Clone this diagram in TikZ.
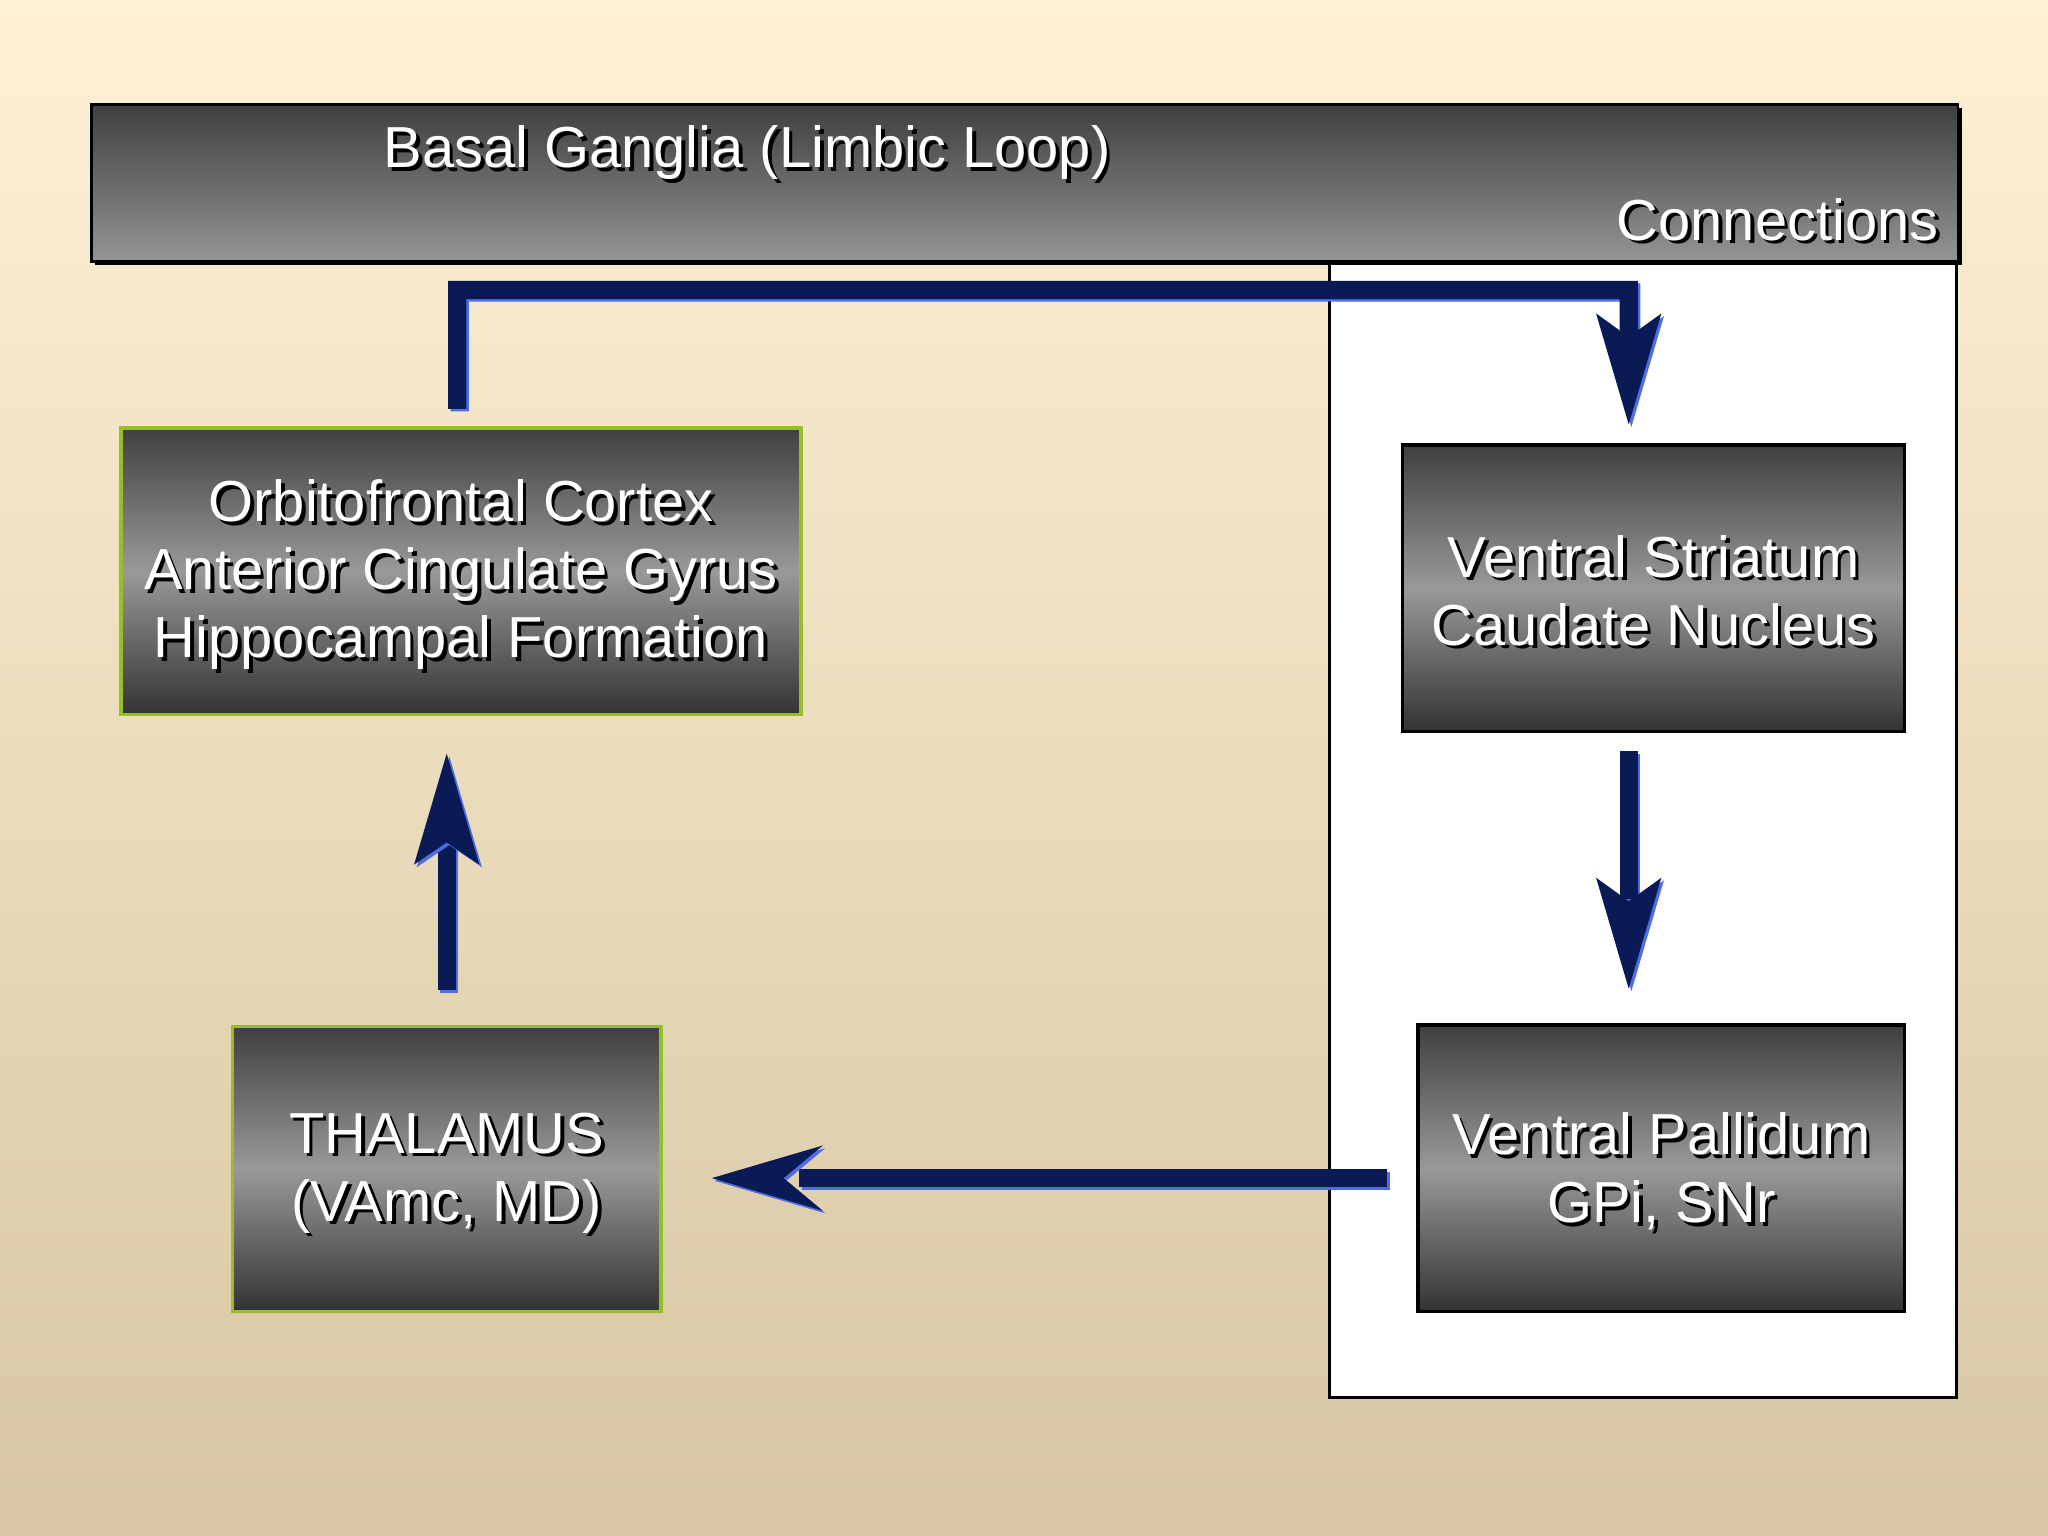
\documentclass[tikz,border=0pt]{standalone}
\usepackage{fontspec}
\setmainfont{Liberation Sans}
\begin{document}
\begin{tikzpicture}[x=0.01cm,y=-0.01cm,
  txt/.style={align=center,font=\fontsize{12.6}{14.8}\selectfont,inner sep=0pt},
  box/.style={draw=#1,line width=0.8pt,shading=axis,top color=black!75,bottom color=black!80,middle color=black!40,inner sep=0pt},
  navy/.style={fill={rgb,255:red,10;green,26;blue,85}},
  shad/.style={fill={rgb,255:red,80;green,110;blue,225}}]
\definecolor{grn}{RGB}{150,190,40}
\newcommand{\stxt}[3]{\node[txt,black,xshift=0.8pt,yshift=-0.8pt] at (#1) {#3};\node[txt,white] (#2) at (#1) {#3};}
\newcommand{\arrowpoly}[1]{\fill[shad] [shift={(2,2)}] #1; \fill[navy] #1;}
\shade[top color={rgb,255:red,254;green,241;blue,214},bottom color={rgb,255:red,214;green,198;blue,163}] (0,0) rectangle (1568,1176);
\useasboundingbox (0,0) rectangle (1568,1176);
% white panel
\draw[fill=white,line width=0.8pt] (1018,195) rectangle (1498,1070);
% title bar
\fill[black] (73,83) rectangle (1502,203);
\shade[top color=black!75,bottom color=black!42,draw=black,line width=0.6pt] (70,80) rectangle (1499,200);
\stxt{572,117}{title}{Basal Ganglia (Limbic Loop)}
\stxt{1361,168}{conn}{Connections}
% boxes
\node[box=grn,minimum width=5.2cm,minimum height=2.19cm] (ofc) at (353,437.5) {};
\stxt{353,440}{ofct}{Orbitofrontal Cortex\\Anterior Cingulate Gyrus\\Hippocampal Formation}
\node[box=black,minimum width=3.84cm,minimum height=2.19cm] (vs) at (1266,450.5) {};
\stxt{1266,452}{vst}{Ventral Striatum\\Caudate Nucleus}
\node[box=grn,minimum width=3.28cm,minimum height=2.18cm] (th) at (342,895) {};
\stxt{342,898}{tht}{THALAMUS\\(VAmc, MD)}
\node[box=black,minimum width=3.72cm,minimum height=2.19cm] (vp) at (1272,894.5) {};
\stxt{1272,897}{vpt}{Ventral Pallidum\\GPi, SNr}
% arrow 1
\arrowpoly{(343,222) rectangle (357,313) (343,215) rectangle (1254,229) (1240,215) rectangle (1254,258)}
\arrowpoly{(1247,325) -- (1222,240) -- (1247,258) -- (1272,240) -- cycle}
% arrow 2
\arrowpoly{(1240,575) rectangle (1254,688)}
\arrowpoly{(1247,757) -- (1222,672) -- (1247,690) -- (1272,672) -- cycle}
% arrow 3
\arrowpoly{(612,895) rectangle (1062,909)}
\arrowpoly{(545,902) -- (630,877) -- (600,902) -- (630,927) -- cycle}
% arrow 4
\arrowpoly{(335,645) rectangle (349,758)}
\arrowpoly{(342,577) -- (367,662) -- (342,645) -- (317,662) -- cycle}
\end{tikzpicture}
\end{document}
